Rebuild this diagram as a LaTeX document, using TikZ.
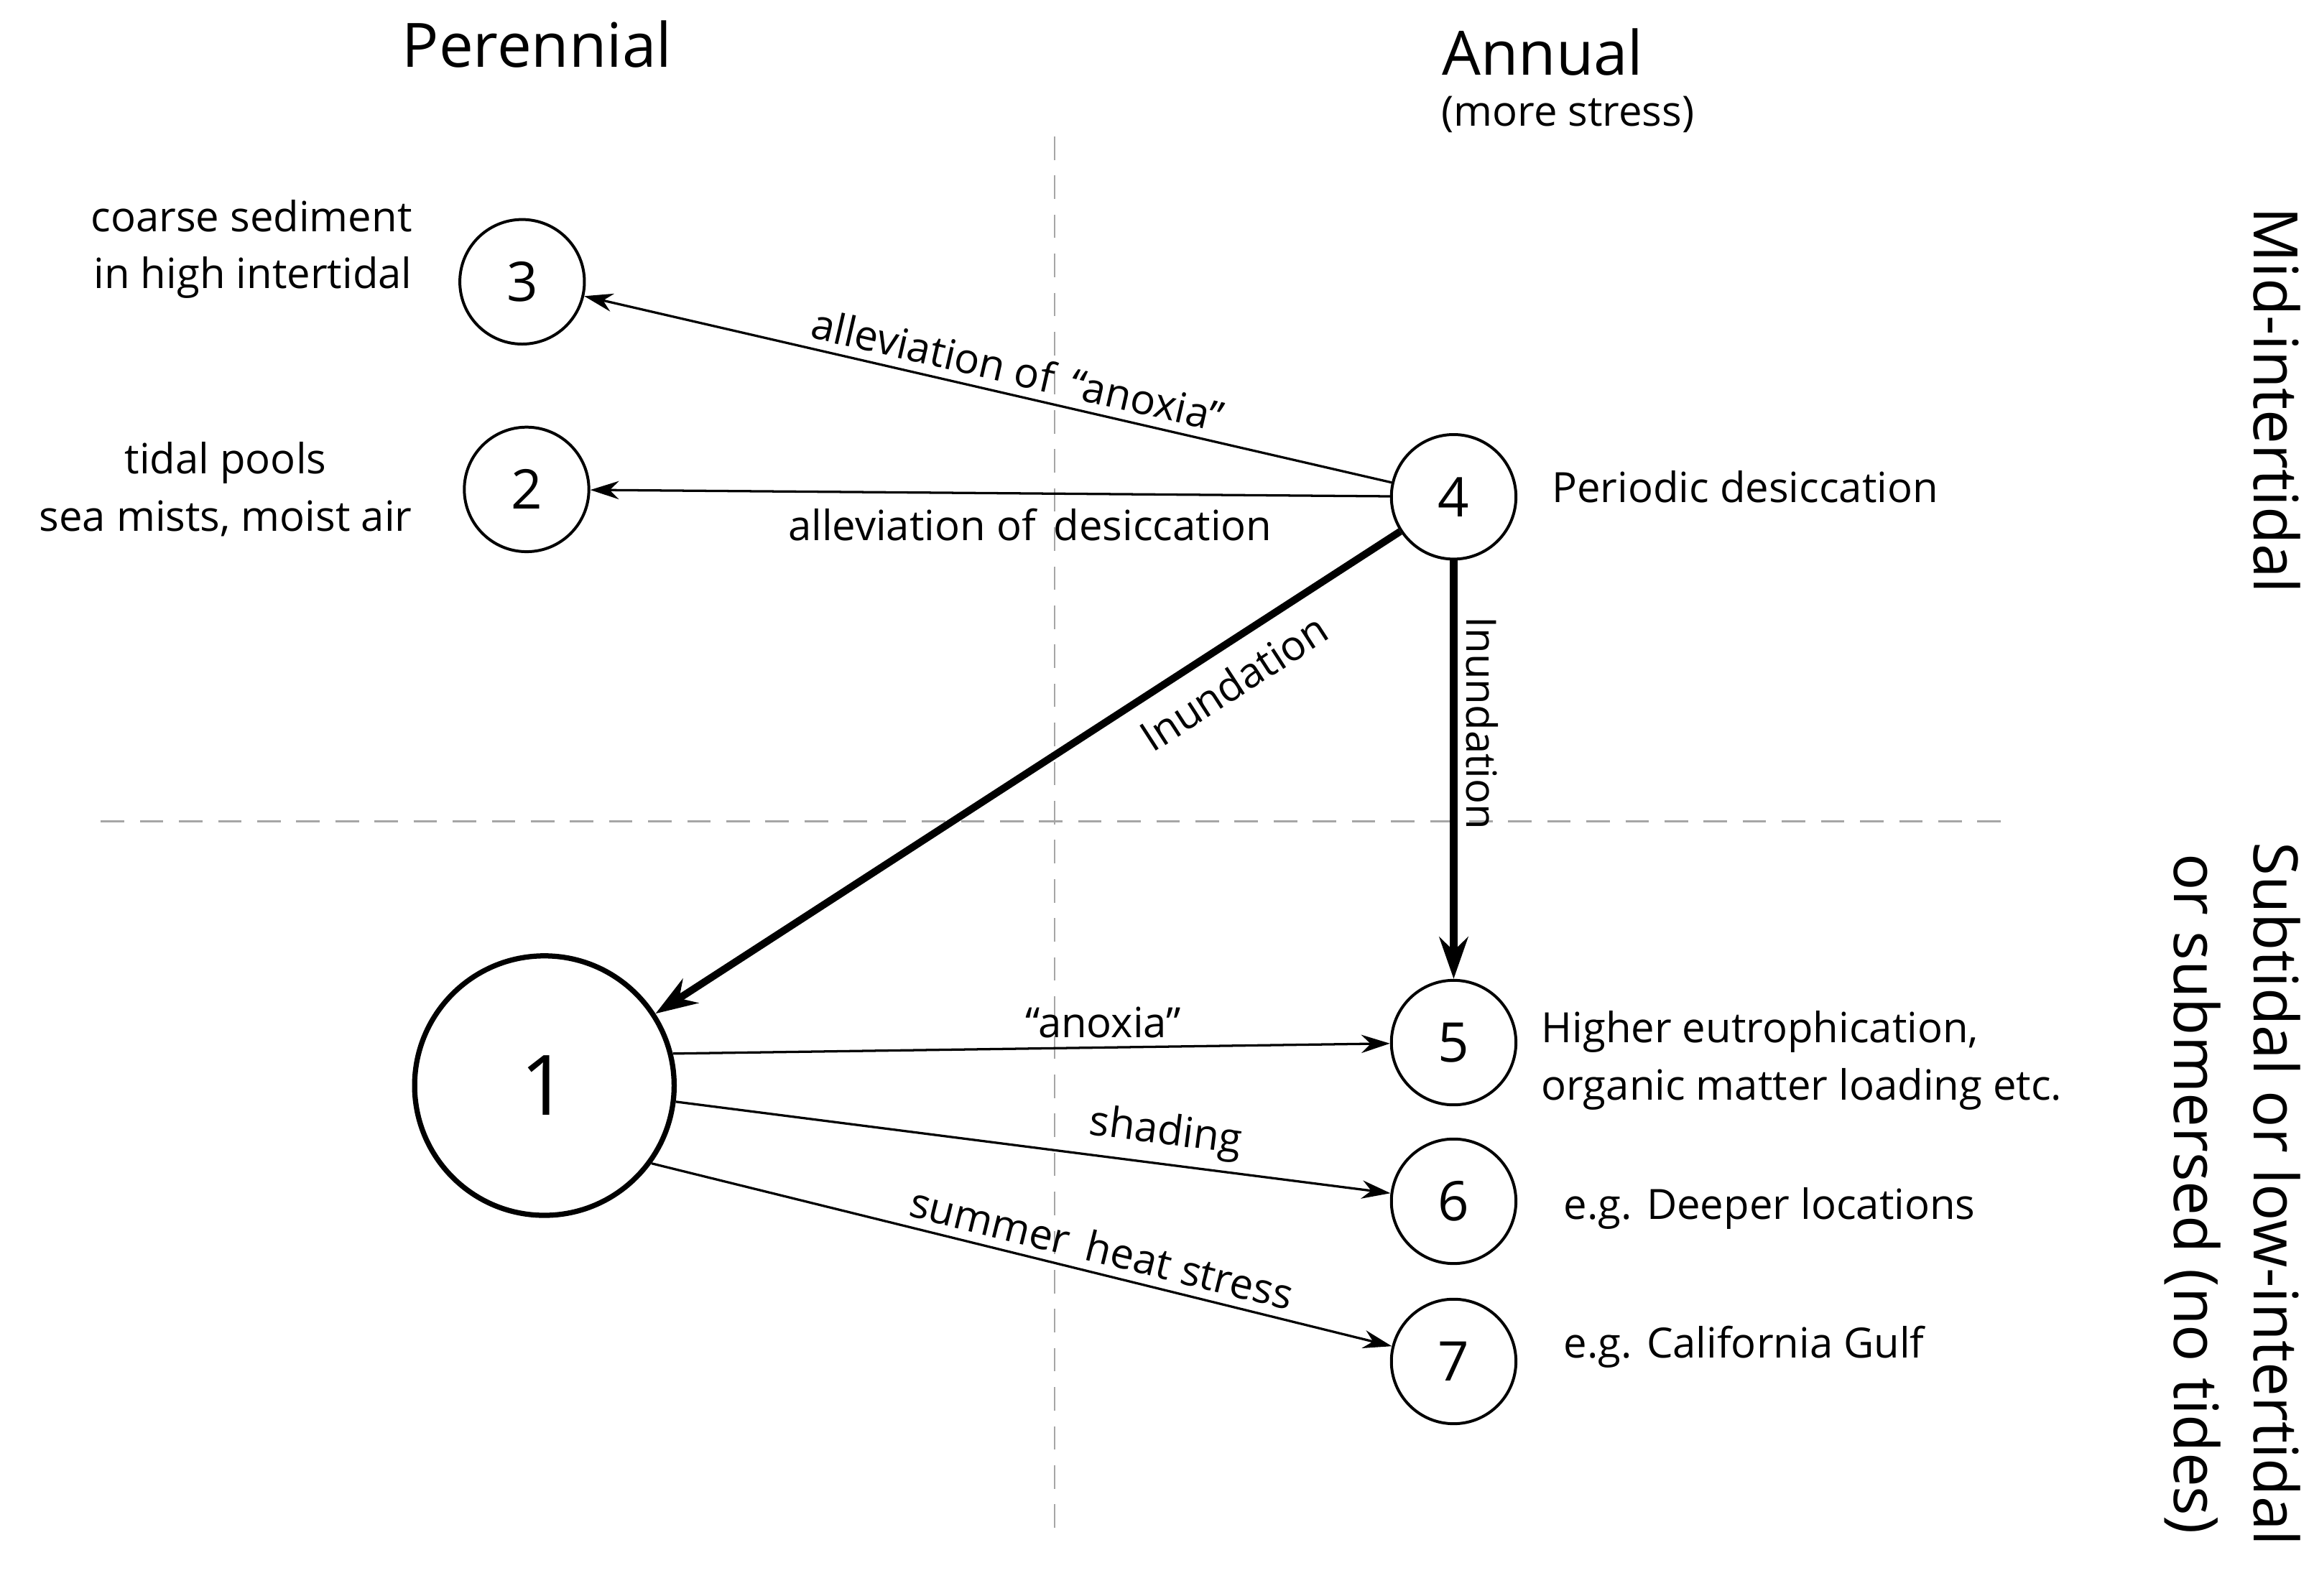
\documentclass[tikz,border=0pt]{standalone}
\usepackage{fontspec}
\setmainfont{Open Sans}
\usetikzlibrary{arrows.meta}
\begin{document}
\begin{tikzpicture}[x=0.02cm,y=-0.02cm,
 circ/.style={circle,draw,line width=1.1pt,minimum size=1.68cm,inner sep=0pt,font=\fontsize{21}{24}\selectfont},
 txt/.style={font=\fontsize{16}{22}\selectfont},
 ttl/.style={font=\fontsize{23.5}{28}\selectfont},
 thin/.style={line width=0.9pt,-{Stealth[length=11pt,width=7pt]}},
 thick/.style={line width=2.8pt,-{Stealth[length=16pt,width=11pt]}},
 dsh/.style={gray!70,line width=0.8pt,dash pattern=on 9pt off 6pt}]
\useasboundingbox (0,0) rectangle (1560,1076);
\draw[dsh] (711,92) coordinate (va) -- (711,1040) coordinate (vb);
\draw[dsh] (68,554) coordinate (ha) -- (1355,554) coordinate (hb);
\node[ttl] (tp) at (362,30) {Perennial};
\node[ttl] (ta) at (1040,35) {Annual};
\node[txt] (tm) at (1057,77) {(more stress)};
\node[ttl,rotate=-90] (tmi) at (1535,270) {Mid-intertidal};
\node[ttl,rotate=-90] (ts1) at (1535,805) {Subtidal or low-intertidal};
\node[ttl,rotate=-90] (ts2) at (1478,805) {or submersed (no tides)};
\node[circ] (n3) at (352,190) {3};
\node[circ] (n2) at (355,330) {2};
\node[circ] (n4) at (980,335) {4};
\node[circ] (n5) at (980,703) {5};
\node[circ] (n6) at (980,810) {6};
\node[circ] (n7) at (980,918) {7};
\node[circle,draw,line width=2pt,minimum size=3.5cm,inner sep=0pt,font=\fontsize{32}{36}\selectfont] (n1) at (367,732) {1};
\node[txt,anchor=east,align=right] (l3) at (284,168) {coarse sediment\\in high intertidal};
\node[txt,anchor=east,align=center] (l2) at (284,330) {tidal pools\\sea mists, moist air};
\node[txt,anchor=west] (l4) at (1040,328) {Periodic desiccation};
\node[txt,anchor=west,align=left] (l5) at (1033,715) {Higher eutrophication,\\organic matter loading etc.};
\node[txt,anchor=west] (l6) at (1048,815) {e.g. Deeper locations};
\node[txt,anchor=west] (l7) at (1048,908) {e.g. California Gulf};
\draw[thin] (n4) -- node[txt,sloped,above,pos=0.47] {alleviation of \,``anoxia''} (n3);
\draw[thin] (n4) -- node[txt,below=2pt,pos=0.45] {alleviation of \,desiccation} (n2);
\draw[thick] (n4) -- node[txt,sloped,below=3pt,pos=0.25] {Inundation} (n1);
\draw[thick] (n4) -- node[txt,rotate=-90,anchor=south,xshift=3pt,pos=0.37] {Inundation} (n5);
\draw[thin] (n1.14) -- node[txt,above,pos=0.6] {``anoxia''} (n5);
\draw[thin] (n1.-7) -- node[txt,sloped,above,pos=0.68] {shading} (n6);
\draw[thin] (n1.-36) -- node[txt,sloped,above,pos=0.6] {summer \,heat stress} (n7);
\end{tikzpicture}
\end{document}
